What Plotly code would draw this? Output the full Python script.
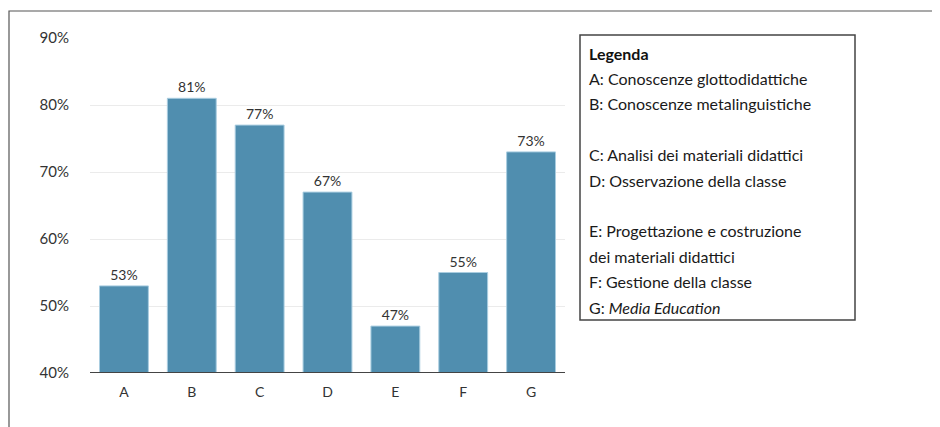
import plotly.graph_objects as go

categories = ["A", "B", "C", "D", "E", "F", "G"]
values = [53, 81, 77, 67, 47, 55, 73]
tick_vals = [40, 50, 60, 70, 80, 90]
tick_text = ["40%", "50%", "60%", "70%", "80%", "90%"]
legend_title = "Legenda"
legend_lines = [
    "A: Conoscenze glottodidattiche",
    "B: Conoscenze metalinguistiche",
    "",
    "C: Analisi dei materiali didattici",
    "D: Osservazione della classe",
    "",
    "E: Progettazione e costruzione",
    "dei materiali didattici",
    "F: Gestione della classe",
    "G: <i>Media Education</i>",
]

W, H = 940, 427
OFF = 8  # page body margin
# plot area in page pixels
PL, PR, PT, PB = 90, 565, 38, 373
L, R, T, B = PL - OFF, PR - OFF, PT - OFF, PB - OFF


def px(x):
    return (x - PL) / (PR - PL)


def py(y):
    return (PB - y) / (PB - PT)


FONT = "Lato, Open Sans, sans-serif"

fig = go.Figure(
    go.Bar(
        x=categories,
        y=values,
        base=0,
        marker=dict(color="#508eaf", line=dict(color="#a9cde0", width=1)),
        text=[f"{v}%" for v in values],
        textposition="outside",
        textfont=dict(family=FONT, size=14, color="#333333"),
        cliponaxis=False,
    )
)

shapes = [
    dict(type="rect", xref="paper", yref="paper",
         x0=px(9), x1=px(960), y0=py(450), y1=py(11),
         line=dict(color="#555555", width=1.2), fillcolor="rgba(0,0,0,0)", layer="below"),
    dict(type="rect", xref="paper", yref="paper",
         x0=px(580), x1=px(855), y0=py(320), y1=py(35),
         line=dict(color="#444444", width=1.5), fillcolor="white"),
    dict(type="line", xref="paper", yref="y",
         x0=0, x1=1, y0=40, y1=40,
         line=dict(color="#444444", width=2)),
]

annotations = [
    dict(text=f"<b>{legend_title}</b>", xref="paper", yref="paper",
         x=px(587), y=py(53), xanchor="left", yanchor="middle", showarrow=False,
         font=dict(family=FONT, size=16, color="#111111"))
]
y0 = 78.5
step = 25.4
for i, line in enumerate(legend_lines):
    if not line:
        continue
    annotations.append(dict(
        text=line, xref="paper", yref="paper",
        x=px(587), y=py(y0 + i * step), xanchor="left", yanchor="middle",
        showarrow=False, font=dict(family=FONT, size=16, color="#1a1a1a")))

fig.update_layout(
    width=W, height=H,
    margin=dict(l=L, r=W - R, t=T, b=H - B, pad=0),
    paper_bgcolor="white", plot_bgcolor="white",
    bargap=0.28,
    showlegend=False,
    shapes=shapes,
    annotations=annotations,
    xaxis=dict(showgrid=False, showline=False, ticks="", ticklabelstandoff=9,
               tickfont=dict(family=FONT, size=14, color="#333333")),
    yaxis=dict(range=[40, 90], tickvals=tick_vals, ticktext=tick_text,
               showgrid=True, gridcolor="#ebebeb", gridwidth=1,
               zeroline=False, showline=False, ticks="", ticklabelstandoff=20,
               tickfont=dict(family=FONT, size=15, color="#333333")),
)

fig.write_html("out.html")
